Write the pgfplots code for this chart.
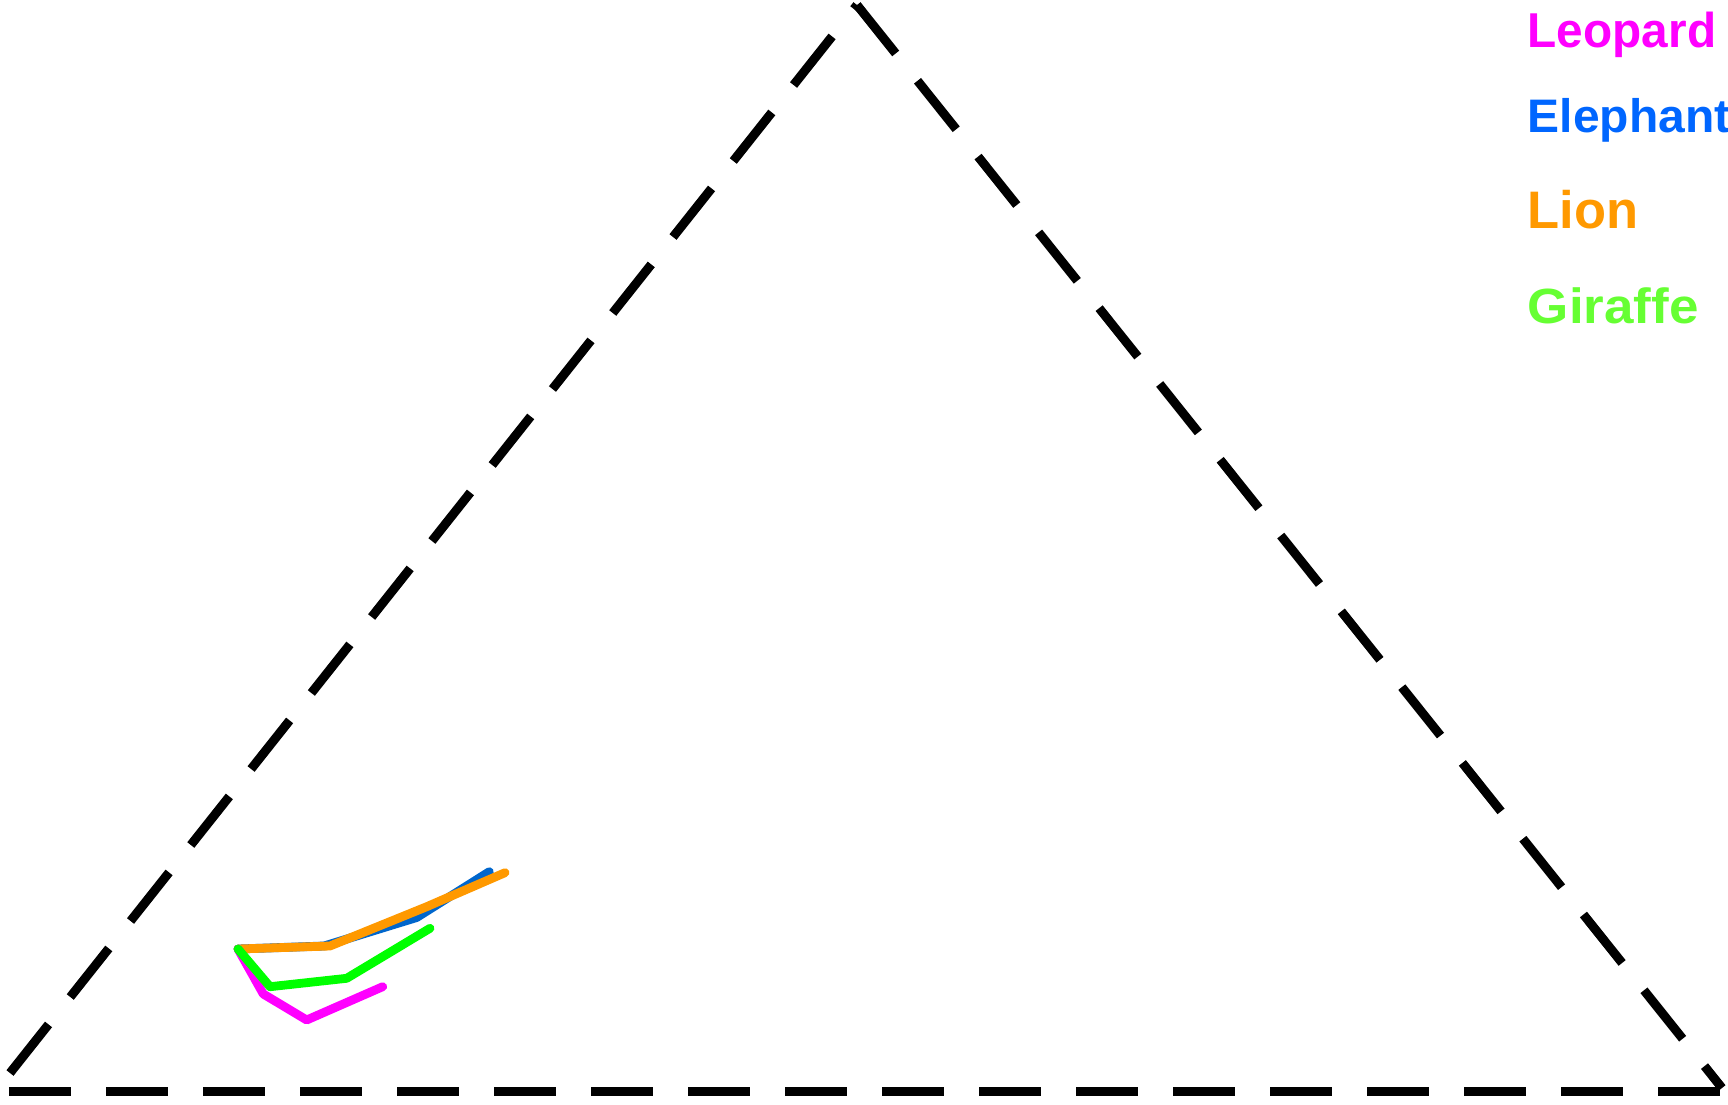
\documentclass[border=0pt]{standalone}
\usepackage{pgfplots}
\pgfplotsset{compat=1.18}
\usepackage{fontspec}
\setmainfont{Liberation Sans}
\definecolor{cLeo}{HTML}{FF00FF}
\definecolor{cEle}{HTML}{0066CC}
\definecolor{cEleT}{HTML}{0066FF}
\definecolor{cLion}{HTML}{FF9900}
\definecolor{cGir}{HTML}{00FF00}
\definecolor{cGirT}{HTML}{66FF33}
\begin{document}
\begin{tikzpicture}
\begin{axis}[
  width=432pt, height=276.25pt, scale only axis,
  xmin=0, xmax=1728, ymin=0, ymax=1105, y dir=reverse,
  hide axis, clip=false,
]
% triangle
\addplot[black, line width=2.25pt, dash pattern=on 15.5pt off 8.75pt] coordinates {(10,1073) (857,5)};
\addplot[black, line width=2.25pt, dash pattern=on 15.5pt off 8.75pt] coordinates {(857,5) (1722,1088)};
\addplot[black, line width=2.25pt, dash pattern=on 15.5pt off 8.75pt] coordinates {(9,1091) (1721,1091)};
% series
\addplot[cEle, line width=2.2pt, line cap=round, line join=round] coordinates {(238,949) (324,946) (416.7,917.5) (489.3,871.7)};
\addplot[cLion, line width=2.2pt, line cap=round, line join=round] coordinates {(238,949) (330,946) (426.7,906.7) (505,872.7)};
\addplot[cLeo, line width=2.2pt, line cap=round, line join=round] coordinates {(238,949) (263.3,994) (306.7,1020) (382.7,986.7)};
\addplot[cGir, line width=2.2pt, line cap=round, line join=round] coordinates {(238,949) (270,986.7) (346.7,978.3) (430,928.3)};
% legend
\node[anchor=base west, inner sep=0pt, text=cLeo, font=\fontsize{12}{14}\selectfont\bfseries] at (axis cs:1527,47.7) {\scalebox{0.995}[1.02]{Leopard}};
\node[anchor=base west, inner sep=0pt, text=cEleT, font=\fontsize{12}{14}\selectfont\bfseries] at (axis cs:1527,132.5) {\scalebox{1.0}[0.98]{Elephant}};
\node[anchor=base west, inner sep=0pt, text=cLion, font=\fontsize{12}{14}\selectfont\bfseries] at (axis cs:1527,228.3) {\scalebox{1.093}[1.1]{Lion}};
\node[anchor=base west, inner sep=0pt, text=cGirT, font=\fontsize{12}{14}\selectfont\bfseries] at (axis cs:1527,323.3) {\scalebox{1.104}[1.03]{Giraffe}};
\end{axis}
\pgfresetboundingbox
\useasboundingbox (current axis.south west) rectangle (current axis.north east);
\end{tikzpicture}
\end{document}
